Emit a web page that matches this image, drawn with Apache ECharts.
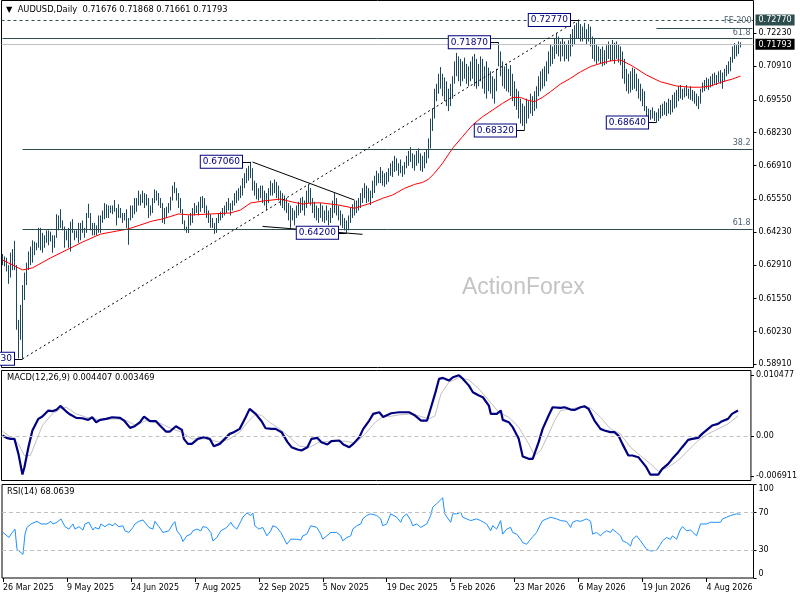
<!DOCTYPE html>
<html><head><meta charset="utf-8">
<script src="https://cdn.jsdelivr.net/npm/echarts@6/dist/echarts.min.js"></script>
<style>html,body{margin:0;padding:0;background:#fff}#c{width:800px;height:600px}</style>
</head><body><div id="c"></div>
<script>
// ---------- DATA ----------
const firstDate = [2025, 2, 26];   // 26 Mar 2025 (UTC, month 0-based)
const slotCount = 376;             // trading-day slots shown on the axis
const holidays = ['2025-12-25', '2026-01-01'];
const monthNames = ['Jan','Feb','Mar','Apr','May','Jun','Jul','Aug','Sep','Oct','Nov','Dec'];

const highs = [
.6335,.6325,.6320,.6290,.6340,.6355,.6388,.6290,.6070,.6130,.6210,.6260,.6300,.6345,.6365,.6390,.6385,.6380,.6440,.6440,
.6420,.6410,.6430,.6430,.6425,.6410,.6410,.6495,.6490,.6515,.6470,.6445,.6430,.6440,.6465,.6475,.6430,.6430,.6460,.6460,
.6470,.6440,.6500,.6537,.6500,.6460,.6460,.6450,.6490,.6490,.6510,.6540,.6535,.6530,.6530,.6530,.6552,.6520,.6535,.6520,
.6500,.6500,.6515,.6480,.6530,.6530,.6560,.6560,.6590,.6575,.6590,.6580,.6575,.6560,.6530,.6560,.6595,.6590,.6580,.6560,
.6540,.6520,.6525,.6540,.6565,.6610,.6625,.6600,.6580,.6560,.6515,.6470,.6445,.6490,.6500,.6520,.6540,.6530,.6545,.6565,
.6568,.6560,.6530,.6510,.6495,.6480,.6460,.6480,.6500,.6505,.6520,.6530,.6545,.6560,.6540,.6550,.6580,.6590,.6600,.6610,
.6640,.6660,.6680,.6690,.6706,.6680,.6630,.6620,.6600,.6610,.6610,.6590,.6580,.6600,.6630,.6620,.6635,.6625,.6610,.6590,
.6580,.6570,.6560,.6540,.6530,.6520,.6510,.6530,.6545,.6560,.6565,.6550,.6590,.6615,.6600,.6560,.6545,.6530,.6520,.6540,
.6530,.6510,.6530,.6510,.6520,.6550,.6580,.6560,.6530,.6510,.6495,.6480,.6470,.6490,.6520,.6535,.6550,.6550,.6560,.6580,
.6600,.6620,.6610,.6600,.6590,.6630,.6650,.6670,.6660,.6685,.6670,.6660,.6665,.6680,.6700,.6710,.6730,.6720,.6700,.6715,
.6690,.6705,.6730,.6750,.6765,.6740,.6735,.6750,.6760,.6740,.6730,.6745,.6755,.6800,.6880,.6920,.7000,.7020,.7060,.7087,
.7060,.7045,.7030,.7000,.7020,.7050,.7110,.7144,.7130,.7120,.7110,.7125,.7100,.7090,.7110,.7130,.7140,.7120,.7100,.7130,
.7120,.7090,.7110,.7085,.7070,.7050,.7040,.7080,.7187,.7150,.7110,.7090,.7100,.7080,.7095,.7060,.7030,.7000,.6990,.6960,
.6940,.6930,.6960,.6950,.6980,.6970,.6990,.7010,.7050,.7070,.7080,.7090,.7110,.7150,.7180,.7170,.7200,.7224,.7210,.7190,
.7200,.7190,.7180,.7195,.7220,.7240,.7255,.7265,.7277,.7260,.7250,.7265,.7240,.7260,.7250,.7210,.7200,.7180,.7170,.7160,
.7170,.7155,.7175,.7190,.7180,.7196,.7185,.7190,.7180,.7170,.7150,.7120,.7080,.7060,.7070,.7085,.7080,.7060,.7040,.7020,
.7000,.6990,.6930,.6920,.6915,.6925,.6910,.6905,.6920,.6935,.6940,.6950,.6945,.6960,.6955,.6975,.6985,.6995,.7010,.7015,
.7000,.7005,.7015,.7000,.7010,.6995,.6990,.6980,.6970,.7000,.7025,.7035,.7045,.7040,.7050,.7060,.7065,.7055,.7070,.7075,
.7065,.7080,.7095,.7110,.7128,.7170,.7184,.7175,.7190,.71868
];
const lows = [
.6290,.6285,.6265,.6215,.6240,.6270,.6270,.6030,.5915,.5990,.5913,.6150,.6210,.6270,.6290,.6300,.6330,.6350,.6360,.6350,
.6340,.6360,.6380,.6370,.6385,.6340,.6360,.6400,.6430,.6440,.6430,.6360,.6390,.6360,.6345,.6420,.6390,.6400,.6380,.6390,
.6420,.6400,.6420,.6480,.6430,.6410,.6410,.6410,.6420,.6420,.6460,.6475,.6480,.6480,.6500,.6495,.6505,.6450,.6480,.6480,
.6460,.6470,.6440,.6372,.6470,.6480,.6495,.6505,.6530,.6530,.6540,.6520,.6530,.6480,.6490,.6500,.6540,.6550,.6530,.6520,
.6460,.6455,.6480,.6500,.6510,.6550,.6580,.6550,.6520,.6500,.6455,.6430,.6420,.6419,.6450,.6460,.6490,.6500,.6490,.6505,
.6520,.6500,.6480,.6460,.6440,.6440,.6416,.6420,.6460,.6470,.6480,.6490,.6500,.6510,.6490,.6510,.6530,.6540,.6550,.6560,
.6570,.6600,.6620,.6630,.6640,.6590,.6570,.6555,.6550,.6560,.6540,.6530,.6512,.6540,.6570,.6570,.6580,.6560,.6550,.6530,
.6520,.6510,.6500,.6470,.6440,.6470,.6450,.6480,.6490,.6500,.6510,.6490,.6520,.6540,.6530,.6500,.6480,.6470,.6460,.6480,
.6465,.6460,.6470,.6450,.6460,.6480,.6500,.6490,.6470,.6450,.6440,.6430,.6420,.6430,.6460,.6480,.6490,.6500,.6510,.6520,
.6540,.6560,.6540,.6545,.6532,.6560,.6580,.6610,.6620,.6620,.6610,.6605,.6615,.6625,.6650,.6645,.6665,.6670,.6650,.6660,
.6645,.6655,.6680,.6690,.6705,.6680,.6670,.6690,.6700,.6670,.6665,.6680,.6700,.6720,.6760,.6830,.6880,.6950,.6980,.7000,
.6970,.6950,.6930,.6910,.6930,.6960,.7020,.7050,.7030,.7010,.7030,.7040,.7020,.7010,.7030,.7040,.7010,.7000,.7010,.7030,
.7000,.6980,.6960,.6990,.6980,.6960,.6940,.6990,.7090,.7050,.7010,.7000,.6990,.6985,.6970,.6950,.6930,.6915,.6880,.6860,
.6850,.6832,.6860,.6880,.6900,.6890,.6910,.6920,.6970,.6990,.7000,.7010,.7030,.7060,.7090,.7100,.7120,.7140,.7130,.7110,
.7130,.7110,.7120,.7110,.7130,.7170,.7180,.7200,.7200,.7190,.7190,.7200,.7180,.7190,.7170,.7120,.7110,.7100,.7110,.7100,
.7090,.7095,.7100,.7120,.7110,.7115,.7100,.7120,.7105,.7095,.7040,.7020,.6990,.6980,.6985,.6995,.7000,.6990,.6960,.6950,
.6930,.6910,.6880,.6870,.6875,.6880,.6870,.6864,.6870,.6880,.6890,.6895,.6890,.6900,.6895,.6905,.6920,.6925,.6950,.6960,
.6955,.6965,.6970,.6960,.6955,.6950,.6940,.6930,.6918,.6940,.6985,.6990,.7000,.6995,.7005,.7010,.7020,.7015,.7025,.7020,
.7000,.7030,.7050,.7060,.7070,.7105,.7120,.7130,.7140,.71661
];
const maLine = [[0,0.6311],[10,0.6271],[15,0.6279],[24,0.6319],[32,0.6351],[40,0.6383],[49,0.6415],[63,0.6436],[75,0.6468],[80,0.6476],[88,0.6496],[94,0.6492],[104,0.6496],[114,0.6500],[119,0.6512],[124,0.6540],[130,0.6548],[139,0.6556],[145,0.6544],[150,0.6536],[154,0.6540],[159,0.6541],[168,0.6532],[176,0.6519],[184,0.6539],[190,0.6559],[195,0.6572],[201,0.6599],[206,0.6615],[210,0.6623],[213,0.6636],[216,0.6660],[220,0.6700],[225,0.6760],[230,0.6807],[235,0.6854],[240,0.6887],[245,0.6914],[250,0.6941],[255,0.6965],[259,0.6965],[262,0.6955],[266,0.6948],[270,0.6965],[274,0.6988],[279,0.7019],[284,0.7042],[289,0.7068],[294,0.7089],[299,0.7102],[304,0.7112],[309,0.7116],[315,0.7091],[322,0.7055],[329,0.7028],[337,0.7011],[344,0.7006],[349,0.7006],[354,0.7011],[360,0.7028],[365,0.7039],[369,0.7051]];

const macdMain = [[0,0.00011],[2,-0.00029],[4,-0.00046],[6,-0.00046],[8,-0.00304],[10,-0.0066],[11,-0.00533],[13,-0.00189],[15,0.00097],[18,0.00298],[20,0.00338],[23,0.00441],[25,0.0043],[27,0.00452],[29,0.00521],[32,0.00424],[34,0.00372],[37,0.00315],[40,0.00309],[43,0.00281],[45,0.00326],[47,0.00241],[49,0.00281],[52,0.00298],[55,0.00326],[59,0.00315],[61,0.00269],[64,0.00143],[66,0.00166],[69,0.00241],[71,0.00338],[74,0.00258],[77,0.00258],[79,0.00183],[82,0.0008],[84,0.0008],[87,0.00172],[90,0.00109],[91,-0.00046],[93,-0.00132],[95,-0.00132],[98,-0.00046],[101,-0.00017],[104,-0.00046],[106,-0.00172],[109,-0.00132],[111,-0.00063],[114,0.0004],[116,0.00069],[119,0.00126],[122,0.00326],[124,0.0047],[127,0.00384],[130,0.00258],[132,0.00137],[135,0.00126],[137,0.00126],[140,0.00069],[143,-0.00103],[145,-0.00189],[148,-0.00229],[150,-0.00246],[153,-0.00189],[155,-0.00046],[158,-0.00029],[160,-0.00103],[163,-0.00143],[165,-0.00086],[169,-0.00074],[171,-0.00143],[174,-0.00189],[176,-0.00132],[179,-0.00017],[181,0.00126],[184,0.00269],[186,0.00384],[189,0.00412],[191,0.0033],[192,0.003],[195,0.00395],[199,0.00412],[204,0.00412],[207,0.00355],[210,0.00269],[213,0.00269],[215,0.00498],[217,0.00727],[219,0.00985],[221,0.01002],[224,0.00956],[226,0.01014],[229,0.01048],[231,0.00985],[234,0.0087],[236,0.00756],[239,0.00699],[241,0.0067],[244,0.00527],[245,0.00384],[248,0.00384],[250,0.00441],[251,0.00281],[254,0.00241],[256,0.00155],[259,-0.00046],[261,-0.00349],[264,-0.00389],[266,-0.00389],[269,-0.00103],[271,0.00126],[274,0.00355],[276,0.00498],[280,0.00487],[282,0.00498],[285,0.00458],[287,0.00452],[290,0.00498],[292,0.00515],[294,0.0047],[297,0.00269],[300,0.00126],[302,0.00097],[305,0.00069],[307,0.00069],[309,0.00011],[311,-0.00132],[314,-0.00332],[316,-0.00332],[319,-0.00361],[321,-0.00447],[323,-0.00533],[325,-0.0066],[329,-0.0066],[331,-0.00561],[334,-0.00475],[336,-0.00389],[339,-0.00275],[341,-0.00189],[344,-0.00063],[346,-0.00046],[349,-0.00029],[351,0.0004],[354,0.00126],[356,0.00183],[359,0.00212],[361,0.00258],[364,0.00298],[366,0.00384],[369,0.004407]];

const macdSignal = [[0,0.00086],[4,-0.00017],[8,-0.00132],[11,-0.00332],[14,-0.00332],[17,-0.00074],[20,0.00183],[25,0.00384],[29,0.0047],[32,0.00498],[37,0.00384],[42,0.00326],[49,0.00281],[57,0.00298],[62,0.00269],[67,0.00183],[72,0.00269],[79,0.00224],[85,0.00126],[90,0.00069],[95,-0.00046],[102,-0.00046],[109,-0.00103],[114,-0.00046],[119,0.00069],[123,0.00241],[127,0.00384],[130,0.00355],[134,0.00241],[139,0.00126],[144,-0.00017],[149,-0.00172],[154,-0.00189],[159,-0.00103],[165,-0.00086],[172,-0.00086],[177,-0.0012],[182,0.0004],[187,0.00241],[192,0.00355],[194,0.00338],[199,0.00367],[205,0.00384],[210,0.00338],[214,0.00298],[217,0.0035],[220,0.0073],[224,0.0093],[229,0.0101],[234,0.00968],[239,0.00813],[244,0.00613],[249,0.00412],[254,0.00326],[259,0.00155],[264,-0.00132],[267,-0.00332],[270,-0.00246],[274,0.0004],[277,0.00269],[280,0.00441],[285,0.0047],[290,0.00498],[295,0.00487],[300,0.00326],[305,0.00126],[310,0.0004],[315,-0.00189],[320,-0.00332],[325,-0.00475],[329,-0.00601],[334,-0.00533],[339,-0.00418],[344,-0.00246],[349,-0.00074],[354,0.0004],[359,0.00126],[364,0.00212],[369,0.003469]];

const rsiLine = [[0,48.7],[1,50.5],[3,43.3],[4,46.9],[6,52.3],[7,30.7],[8,29.6],[10,25.3],[11,46.9],[12,54.1],[14,57.8],[15,59.6],[17,60.6],[19,57.8],[20,59.6],[22,57.8],[24,60.6],[25,57.8],[27,59.6],[29,63.2],[31,54.9],[33,52.3],[35,57.8],[36,52.3],[38,54.9],[40,51.3],[41,57.8],[43,59.6],[45,51.3],[46,54.1],[48,52.3],[49,57.8],[51,54.9],[53,57.8],[55,55.9],[56,58.5],[58,54.9],[60,55.9],[61,50.5],[63,48.7],[65,54.1],[66,57.8],[68,60.6],[70,62.1],[71,60.6],[73,54.1],[75,52.3],[76,60.6],[78,54.9],[80,48.7],[81,46.9],[83,50.5],[85,57.8],[86,60.3],[87,50.5],[89,45.1],[90,39.0],[92,45.1],[94,46.9],[95,50.5],[97,52.3],[99,50.5],[100,54.9],[102,54.1],[104,48.7],[105,39.7],[107,43.3],[109,50.5],[110,50.5],[112,54.1],[114,59.6],[115,55.9],[117,52.3],[119,60.6],[120,65.0],[122,69.6],[124,66.8],[125,69.6],[126,55.9],[128,52.3],[130,54.1],[132,45.1],[134,50.5],[135,55.9],[137,54.1],[139,48.7],[140,46.9],[142,36.1],[144,41.5],[145,39.7],[147,41.5],[149,40.5],[150,45.1],[152,46.9],[154,55.9],[155,57.8],[157,54.1],[159,46.9],[160,41.5],[162,45.1],[164,48.7],[165,50.5],[167,48.7],[169,45.1],[170,39.7],[172,43.3],[174,45.1],[175,52.3],[177,55.9],[179,57.8],[180,63.2],[182,66.8],[184,68.6],[185,70.4],[187,66.8],[189,63.2],[190,55.9],[192,57.8],[193,63.2],[194,68.6],[195,69.3],[197,65.0],[199,59.6],[200,65.0],[202,68.6],[204,61.4],[205,55.9],[207,57.8],[209,54.1],[210,52.3],[212,57.8],[214,66.8],[215,75.8],[217,79.4],[219,83.7],[220,85.9],[221,68.6],[222,70.4],[224,59.6],[225,68.6],[227,68.6],[229,70.4],[230,65.0],[232,63.2],[234,61.4],[235,59.6],[237,63.2],[239,61.4],[240,63.2],[242,57.8],[244,50.5],[245,55.9],[247,52.3],[249,61.4],[250,46.9],[252,52.3],[254,54.1],[255,48.7],[257,46.9],[259,41.5],[260,37.9],[262,36.1],[264,41.5],[265,44.1],[267,48.7],[269,57.8],[270,61.4],[272,63.2],[274,65.0],[275,65.0],[277,63.2],[279,61.4],[280,63.2],[282,60.6],[284,54.1],[285,59.6],[287,61.4],[289,60.6],[290,62.1],[292,63.2],[294,60.6],[295,46.9],[297,48.7],[299,45.1],[300,47.7],[302,50.5],[304,48.7],[305,52.3],[307,48.7],[309,45.1],[310,39.7],[312,37.9],[314,34.3],[315,41.5],[317,45.1],[319,39.7],[320,39.0],[322,30.7],[324,28.9],[325,28.2],[327,29.6],[329,36.1],[330,39.7],[332,43.3],[334,41.5],[335,45.1],[337,41.5],[339,52.3],[340,54.9],[342,50.5],[344,51.3],[345,50.5],[347,45.1],[349,57.8],[350,55.9],[352,57.8],[354,59.6],[355,59.6],[357,59.6],[359,59.6],[360,63.2],[362,65.0],[364,66.8],[365,65.0],[367,68.6],[369,68.06]];

const priceTicks = [0.7223,0.7091,0.6955,0.6823,0.6691,0.6555,0.6423,0.6291,0.6155,0.6023,0.5891];
const macdTicks = [0.010477, 0, -0.006911];
const rsiTicks = [100, 70, 30, 0];
const rsiLevels = [70, 30];
const macdLevel = 0;

const headerText = '\u25BC  AUDUSD,Daily  0.71676 0.71868 0.71661 0.71793';
const macdTitle = 'MACD(12,26,9) 0.004407 0.003469';
const rsiTitle = 'RSI(14) 68.0639';
const watermark = 'ActionForex';

const lastPrice = 0.71793;
const feLevel = { value: 0.7277, text: 'FE 200' };
const feShort = { from: 327, to: 375, value: 0.7243 };
const fibLevels = [ { from: 0, value: 0.7202, text: '61.8' }, { from: 10, value: 0.6756, text: '38.2' }, { from: 10, value: 0.6434, text: '61.8' } ];
const trendLine = [[10, 0.5913], [288, 0.7277]];
const triUpper = [[125, 0.6705], [176, 0.6552]];
const triLower = [[130, 0.6446], [180, 0.6414]];
const pivots = [
  { i: 10, price: 0.5913, text: '0.59130' },
  { i: 124, price: 0.6706, text: '0.67060' },
  { i: 172, price: 0.6420, text: '0.64200' },
  { i: 248, price: 0.7187, text: '0.71870' },
  { i: 261, price: 0.6832, text: '0.68320' },
  { i: 288, price: 0.7277, text: '0.72770' },
  { i: 327, price: 0.6864, text: '0.68640' }
];

// ---------- BUILD ----------
const FONT = 'DejaVu Sans';
const dates = [];
(function () {
  let t = Date.UTC(firstDate[0], firstDate[1], firstDate[2]);
  while (dates.length < slotCount) {
    const d = new Date(t); const wd = d.getUTCDay();
    const iso = d.toISOString().slice(0, 10);
    if (wd !== 0 && wd !== 6 && holidays.indexOf(iso) < 0) dates.push(d.getUTCDate() + ' ' + monthNames[d.getUTCMonth()] + ' ' + d.getUTCFullYear());
    t += 86400000;
  }
})();
const barData = highs.map((h, i) => [i, h, lows[i]]);
const lastSlot = slotCount - 1;

function xAxisFor(gi, show) {
  return {
    type: 'category', gridIndex: gi, data: dates, boundaryGap: true,
    axisLine: { show: false },
    axisTick: { show: show, interval: 31, alignWithLabel: true, length: 4, lineStyle: { color: '#000' } },
    axisLabel: { show: show, interval: 31, align: 'left', margin: 6, fontSize: 8, color: '#000', fontFamily: FONT },
    splitLine: { show: false }
  };
}
function yAxisFor(gi, min, max, ticks, fmt, extra) {
  return {
    type: 'value', gridIndex: gi, position: 'right', min: min, max: max,
    axisLine: { show: false }, splitLine: { show: false },
    axisTick: { show: true, inside: false, length: 3, customValues: ticks, lineStyle: { color: '#000' } },
    axisLabel: Object.assign({ customValues: ticks, formatter: fmt, margin: 5, fontSize: 8, color: '#000', fontFamily: FONT }, extra || {})
  };
}
const fibColor = '#2f4f4f';
const fibText = { color: '#4a5f70', fontSize: 8, fontFamily: FONT };

const annotLines = [];
annotLines.push({ yAxis: feLevel.value, lineStyle: { color: fibColor, type: [3, 3], width: 1 }, label: Object.assign({ show: true, position: 'insideEndBottom', distance: 2, offset: [0, -5], formatter: feLevel.text }, fibText) });
annotLines.push([{ coord: [feShort.from, feShort.value], lineStyle: { color: fibColor, type: 'solid', width: 1 } }, { coord: [feShort.to, feShort.value] }]);
fibLevels.forEach(f => {
  annotLines.push([{ coord: [f.from, f.value], lineStyle: { color: fibColor, type: 'solid', width: 1 }, label: Object.assign({ show: true, position: 'insideEndTop', distance: 2, formatter: f.text }, fibText) }, { coord: [lastSlot, f.value] }]);
});
annotLines.push({ yAxis: lastPrice, lineStyle: { color: '#c0c0c0', type: 'solid', width: 1 } });
annotLines.push([{ coord: trendLine[0], lineStyle: { color: '#000', type: [2, 3], width: 1 } }, { coord: trendLine[1] }]);
annotLines.push([{ coord: triUpper[0], lineStyle: { color: '#000', type: 'solid', width: 1 } }, { coord: triUpper[1] }]);
annotLines.push([{ coord: triLower[0], lineStyle: { color: '#000', type: 'solid', width: 1 } }, { coord: triLower[1] }]);
pivots.forEach(p => {
  annotLines.push([{ coord: [Math.max(0, p.i - 6), p.price], lineStyle: { color: '#000', type: 'solid', width: 1 } }, { coord: [p.i, p.price] }]);
});

const priceMin = 0.58782, priceMax = 0.73550;
const hiliteTicks = [feLevel.value, lastPrice];

const chart = echarts.init(document.getElementById('c'), null, { renderer: 'canvas', width: 800, height: 600 });
chart.setOption({
  animation: false,
  backgroundColor: '#fff',
  textStyle: { fontFamily: FONT },
  title: [
    { text: headerText, left: 6, top: 6, padding: 0, textStyle: { fontSize: 8.3, fontWeight: 'normal', color: '#000', fontFamily: FONT } },
    { text: macdTitle, left: 7, top: 373.5, padding: 0, textStyle: { fontSize: 8.3, fontWeight: 'normal', color: '#000', fontFamily: FONT } },
    { text: rsiTitle, left: 7, top: 488, padding: 0, textStyle: { fontSize: 8.3, fontWeight: 'normal', color: '#000', fontFamily: FONT } }
  ],
  graphic: [
    { type: 'text', left: 462, top: 276, z: 0, silent: true, style: { text: watermark, fontSize: 23, fill: '#c4c4c4', fontFamily: 'Liberation Sans' } }
  ],
  grid: [
    { left: 1.5, top: 0.5, width: 752, height: 367, show: true, borderColor: '#000', borderWidth: 1, backgroundColor: 'transparent' },
    { left: 1.5, top: 370.5, width: 752, height: 110, show: true, borderColor: '#000', borderWidth: 1 },
    { left: 1.5, top: 484.5, width: 752, height: 93.5, show: true, borderColor: '#000', borderWidth: 1 }
  ],
  xAxis: [xAxisFor(0, false), xAxisFor(1, false), xAxisFor(2, true)],
  yAxis: [
    yAxisFor(0, priceMin, priceMax, priceTicks, v => v.toFixed(5)),
    yAxisFor(1, -0.00762, 0.0113, macdTicks, v => (v === 0 ? '0.00' : v.toFixed(6))),
    yAxisFor(2, 0, 100, rsiTicks, v => String(v), { verticalAlignMaxLabel: 'bottom', verticalAlignMinLabel: 'top' }),
    {
      type: 'value', gridIndex: 0, position: 'right', min: priceMin, max: priceMax, z: 20,
      axisLine: { show: false }, splitLine: { show: false }, axisTick: { show: false },
      axisLabel: {
        customValues: hiliteTicks, margin: 2, fontSize: 8, fontFamily: FONT,
        formatter: v => (Math.abs(v - lastPrice) < 1e-6 ? '{b|' + v.toFixed(5) + '}' : '{a|' + v.toFixed(5) + '}'),
        rich: {
          a: { backgroundColor: '#2f4f4f', color: '#fff', padding: [2, 3, 1, 3], fontSize: 8, fontFamily: FONT },
          b: { backgroundColor: '#000', color: '#fff', padding: [2, 3, 1, 3], fontSize: 8, fontFamily: FONT }
        }
      }
    }
  ],
  series: [
    {
      type: 'custom', name: 'bars', xAxisIndex: 0, yAxisIndex: 0, data: barData, z: 2, clip: true,
      encode: { x: 0, y: [1, 2] },
      renderItem: function (params, api) {
        const i = api.value(0);
        const a = api.coord([i, api.value(1)]);
        const b = api.coord([i, api.value(2)]);
        const x = Math.round(a[0] - 0.5) + 0.5;
        return { type: 'line', shape: { x1: x, y1: a[1], x2: x, y2: b[1] }, style: { stroke: '#1d475a', lineWidth: 1 } };
      }
    },
    {
      type: 'line', name: 'MA', xAxisIndex: 0, yAxisIndex: 0, data: maLine, symbol: 'none', z: 3,
      lineStyle: { color: '#ff0000', width: 1 }, itemStyle: { color: '#ff0000' },
      markLine: { symbol: ['none', 'none'], precision: 6, silent: true, animation: false, label: { show: false }, data: annotLines }
    },
    {
      type: 'line', name: 'labels', xAxisIndex: 0, yAxisIndex: 0, data: [], z: 10,
      markPoint: {
        symbol: 'rect', symbolSize: [1, 1], itemStyle: { color: 'rgba(0,0,0,0)' }, silent: true, animation: false,
        label: { show: true, position: 'left', distance: 8, formatter: p => p.name, color: '#000080', backgroundColor: '#fff', borderColor: '#000080', borderWidth: 1, padding: [2, 2, 1, 2], fontSize: 9, fontFamily: FONT },
        data: pivots.map(p => ({ name: p.text, coord: [p.i, p.price] }))
      }
    },
    {
      type: 'line', name: 'Signal', xAxisIndex: 1, yAxisIndex: 1, data: macdSignal, symbol: 'none', z: 2,
      lineStyle: { color: '#c0c0c0', width: 1 }, itemStyle: { color: '#c0c0c0' },
      markLine: { symbol: ['none', 'none'], precision: 6, silent: true, animation: false, label: { show: false }, lineStyle: { color: '#c0c0c0', type: [4, 3], width: 1 }, data: [{ yAxis: macdLevel }] }
    },
    {
      type: 'line', name: 'MACD', xAxisIndex: 1, yAxisIndex: 1, data: macdMain, symbol: 'none', z: 3,
      lineStyle: { color: '#000080', width: 2.2 }, itemStyle: { color: '#000080' }
    },
    {
      type: 'line', name: 'RSI', xAxisIndex: 2, yAxisIndex: 2, data: rsiLine, symbol: 'none', z: 3,
      lineStyle: { color: '#1e90ff', width: 1 }, itemStyle: { color: '#1e90ff' },
      markLine: { symbol: ['none', 'none'], silent: true, animation: false, label: { show: false }, lineStyle: { color: '#c0c0c0', type: [4, 3], width: 1 }, data: rsiLevels.map(v => ({ yAxis: v })) }
    }
  ]
});
</script>
</body></html>
